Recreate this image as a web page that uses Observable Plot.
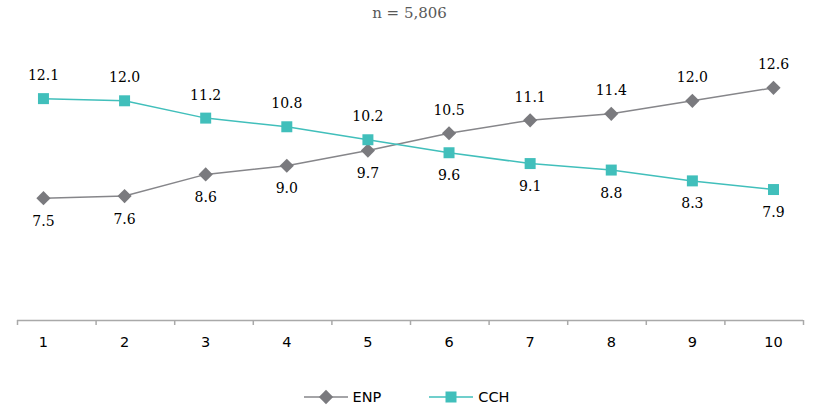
<!DOCTYPE html>
<html>
<head>
<meta charset="utf-8">
<script src="https://cdn.jsdelivr.net/npm/d3@7"></script>
<script src="https://cdn.jsdelivr.net/npm/@observablehq/plot@0.6"></script>
<style>
  body { margin: 0; background: #fff; width: 819px; height: 411px; overflow: hidden; }
  #title { height: 26px; line-height: 26px; text-align: center; font-family: "DejaVu Serif", serif; font-size: 15px; color: #595959; }
  #legend { display: flex; justify-content: center; align-items: center; font-family: "DejaVu Sans", sans-serif; font-size: 14.5px; color: #000; margin-top: 13px; padding-right: 6px; }
  .item { display: flex; align-items: center; }
  .item svg { margin-right: 5px; }
</style>
</head>
<body>
<div id="title">n = 5,806</div>
<div id="chart"></div>
<div id="legend"></div>
<script>
const categories = [1, 2, 3, 4, 5, 6, 7, 8, 9, 10];
const enp = [7.5, 7.6, 8.6, 9.0, 9.7, 10.5, 11.1, 11.4, 12.0, 12.6];
const cch = [12.1, 12.0, 11.2, 10.8, 10.2, 9.6, 9.1, 8.8, 8.3, 7.9];
const seriesNames = ["ENP", "CCH"];
const colors = { ENP: "#86868a", CCH: "#41bfbb" };
const markerColors = { ENP: "#7a7a7e", CCH: "#41bfbb" };

const rows = [];
categories.forEach((c, i) => {
  rows.push({ x: c, series: "ENP", value: enp[i], above: enp[i] > cch[i] });
  rows.push({ x: c, series: "CCH", value: cch[i], above: cch[i] > enp[i] });
});

const xDomain = [0.68, 10.37];
const yDomain = [1.85, 14];
const boundaries = d3.range(11).map(i => xDomain[0] + i * (xDomain[1] - xDomain[0]) / 10);

const chart = Plot.plot({
  width: 819,
  height: 350,
  marginLeft: 17,
  marginRight: 16,
  marginTop: 31,
  marginBottom: 56,
  x: { domain: xDomain, axis: null },
  y: { domain: yDomain, axis: null },
  style: { background: "#fff" },
  marks: [
    Plot.ruleY([yDomain[0]], { x1: xDomain[0], x2: xDomain[1], stroke: "#a9a9a9", strokeWidth: 1.5 }),
    Plot.axisX({ ticks: boundaries, tickSize: 5, tickFormat: () => "", label: null, stroke: "#a9a9a9", strokeWidth: 1.5 }),
    Plot.axisX({ ticks: categories, tickSize: 0, tickPadding: 16, label: null, fontSize: 14.5, fontFamily: "DejaVu Sans, sans-serif", fill: "#000", tickFormat: d => String(d) }),
    Plot.line(rows, { x: "x", y: "value", z: "series", stroke: d => colors[d.series], strokeWidth: 1.5 }),
    Plot.dot(rows.filter(d => d.series === "ENP"), { x: "x", y: "value", symbol: "diamond2", r: 6.4, fill: markerColors.ENP, stroke: "none" }),
    Plot.dot(rows.filter(d => d.series === "CCH"), { x: "x", y: "value", symbol: "square", r: 6.2, fill: markerColors.CCH, stroke: "none" }),
    Plot.text(rows.filter(d => d.above), { x: "x", y: "value", text: d => d.value.toFixed(1), dy: -23, fontSize: 14, fontFamily: "DejaVu Serif, serif", fill: "#000" }),
    Plot.text(rows.filter(d => !d.above), { x: "x", y: "value", text: d => d.value.toFixed(1), dy: 23, fontSize: 14, fontFamily: "DejaVu Serif, serif", fill: "#000" })
  ]
});
document.getElementById("chart").appendChild(chart);

const legend = document.getElementById("legend");
const sym = { ENP: d3.symbol(d3.symbolDiamond2, 130)(), CCH: d3.symbol(d3.symbolSquare, 121)() };
seriesNames.forEach((name, i) => {
  const item = document.createElement("div");
  item.className = "item";
  if (i > 0) item.style.marginLeft = "48px";
  item.innerHTML = `<svg width="44" height="16" viewBox="0 0 44 16"><line x1="0" x2="44" y1="8" y2="8" stroke="${colors[name]}" stroke-width="1.5"/><path d="${sym[name]}" transform="translate(22,8)" fill="${markerColors[name]}"/></svg><span>${name}</span>`;
  legend.appendChild(item);
});
</script>
</body>
</html>
